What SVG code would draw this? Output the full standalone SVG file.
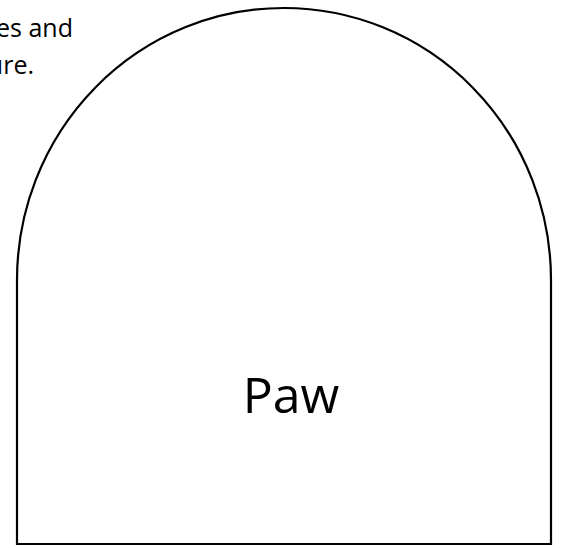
<svg xmlns="http://www.w3.org/2000/svg" width="561" height="548" viewBox="0 0 561 548">
<style>
.t{font-family:"Open Sans","Noto Sans","Liberation Sans",sans-serif;fill:#000}
</style>
<rect width="561" height="548" fill="#fff"/>
<text class="t" x="73" y="36.5" font-size="25" text-anchor="end">es and</text>
<text class="t" x="34" y="73.5" font-size="25" text-anchor="end">ure.</text>
<g id="paw">
<path d="M17,544 L17,280 A267,272 0 0 1 551,280 L551,544 Z" fill="none" stroke="#000" stroke-width="2.2"/>
<text class="t" x="291" y="413" font-size="50" text-anchor="middle">Paw</text>
</g>
</svg>
